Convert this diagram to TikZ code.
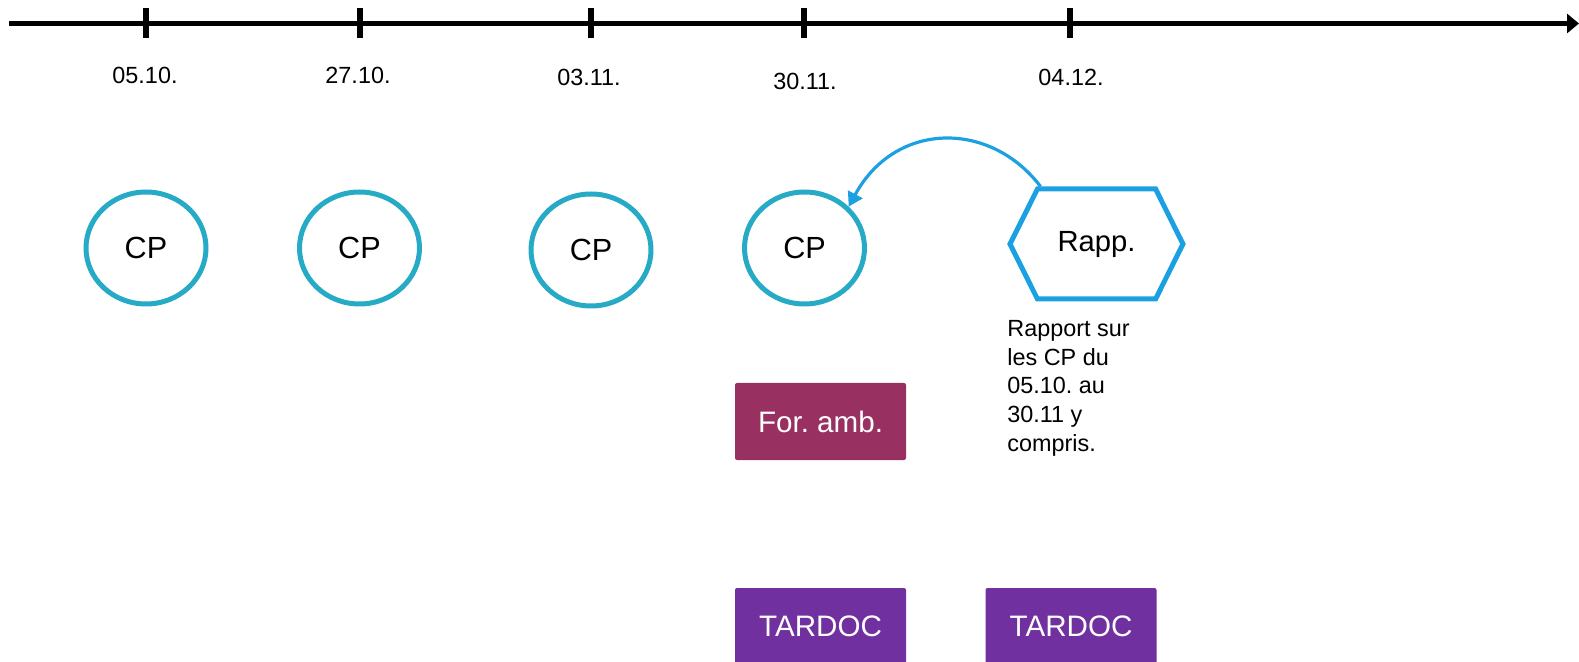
\documentclass[tikz,border=0pt]{standalone}
\usepackage{fontspec}
\setmainfont{Liberation Sans}
\frenchspacing
\usetikzlibrary{shapes.geometric,shapes.symbols,arrows.meta}
\definecolor{cpteal}{RGB}{38,170,198}
\definecolor{rappblue}{RGB}{27,161,226}
\definecolor{formauve}{RGB}{153,48,98}
\definecolor{tardocviolet}{RGB}{112,48,160}

\begin{document}
\begin{tikzpicture}[x=0.5pt,y=-0.5pt,
                    axis/.style={line width=2.6pt,-{Triangle[length=6pt,width=9.5pt]}},
                    tickmark/.style={line width=3pt},
                    datelabel/.style={inner sep=0,font=\fontsize{11.7}{14}\selectfont},
                    cp/.style={ellipse,draw=cpteal,line width=2.5pt,minimum width=60pt,minimum height=56pt,inner sep=0,font=\fontsize{15.3}{18}\selectfont},
                    rapport/.style={signal,signal to=west and east,signal pointer angle=127,draw=rappblue,line width=2.5pt,minimum width=86.5pt,minimum height=55pt,inner sep=0,font=\fontsize{14.6}{17}\selectfont},
                    box/.style={rectangle,rounded corners=1pt,minimum width=85.5pt,minimum height=38.5pt,inner sep=0,text=white,font=\fontsize{14.8}{17}\selectfont}
                ]
                    \useasboundingbox (0,0) rectangle (1579,662);
                    \coordinate (axisstart) at (9,23.5);
                    \coordinate (axisend) at (1579,23.5);
                    \draw[axis] (axisstart) -- (axisend);
                    \foreach \x/\lx/\ly/\dat [count=\i] in {146/145/75/05.10., 360/358/75/27.10., 591/589/77/03.11., 804/805/81/30.11., 1070/1071/77/04.12.}
                        {
                        \draw[tickmark] (\x,8) -- (\x,38);
                        \node[datelabel] (date\i) at (\lx,\ly) {\dat};
                    }
                    \node[cp] (cp1) at (146,248) {CP};
                    \node[cp] (cp2) at (359.5,248) {CP};
                    \node[cp] (cp3) at (591,250) {CP};
                    \node[cp] (cp4) at (804.5,248) {CP};
                    \node[rapport] (rapp) at (1096.5,244) {Rapp.};
                    \node[anchor=north west,align=left,inner sep=0,font=\fontsize{11.7}{14.35}\selectfont] (rapptext) at (1007,320) {Rapport sur\\les CP du\\05.10. au\\30.11 y\\compris.};
                    \node[box,fill=formauve] (foramb) at (820.5,421.5) {For. amb.};
                    \node[box,fill=tardocviolet] (tardoc1) at (820.5,626.5) {TARDOC};
                    \node[box,fill=tardocviolet] (tardoc2) at (1071,626.5) {TARDOC};
                    \draw[rappblue,line width=1.6pt,-{Triangle[length=7pt,width=8pt]}] ([xshift=-28pt]rapp.north) .. controls (990,120) and (895,121) .. (cp4.north east);
                \end{tikzpicture}
\end{document}
